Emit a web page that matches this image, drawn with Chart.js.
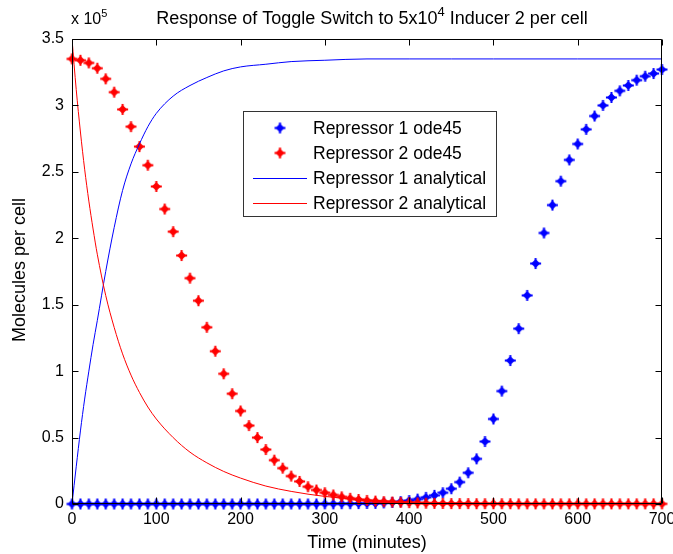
<!DOCTYPE html>
<html>
<head>
<meta charset="utf-8">
<script src="https://cdn.jsdelivr.net/npm/chart.js@4"></script>
<style>
  html, body { margin: 0; padding: 0; background: #fff; }
</style>
</head>
<body>
<canvas id="chart" width="673" height="554"></canvas>
<script>
// values are in units of 1e5 molecules per cell (axis shows "x 10^5")
const odeTimes = [0, 10, 20, 30, 40, 50, 60, 70, 80, 90, 100, 110, 120, 130, 140, 150, 160, 170, 180, 190,
  200, 210, 220, 230, 240, 250, 260, 270, 280, 290, 300, 310, 320, 330, 340, 350, 360, 370, 380, 390,
  400, 410, 420, 430, 440, 450, 460, 470, 480, 490, 500, 510, 520, 530, 540, 550, 560, 570, 580, 590,
  600, 610, 620, 630, 640, 650, 660, 670, 680, 690, 700];

const rep1Ode = [0, 0, 0, 0, 0, 0, 0, 0, 0, 0, 0, 0, 0, 0, 0, 0, 0, 0, 0, 0,
  0, 0, 0, 0, 0, 0, 0, 0, 0, 0, 0.001, 0.001, 0.002, 0.002, 0.003, 0.004, 0.005, 0.008, 0.012, 0.018,
  0.026, 0.037, 0.05, 0.065, 0.085, 0.115, 0.165, 0.235, 0.34, 0.47, 0.64, 0.85, 1.08, 1.32, 1.57, 1.81, 2.04, 2.25, 2.43, 2.59,
  2.71, 2.82, 2.92, 3.0, 3.06, 3.11, 3.15, 3.19, 3.22, 3.24, 3.27];

const rep2Ode = [3.35, 3.34, 3.32, 3.28, 3.2, 3.1, 2.97, 2.84, 2.69, 2.55, 2.39, 2.22, 2.05, 1.87, 1.7, 1.53, 1.33, 1.15, 0.98, 0.83,
  0.7, 0.59, 0.5, 0.41, 0.33, 0.27, 0.21, 0.17, 0.13, 0.105, 0.085, 0.068, 0.054, 0.043, 0.034, 0.027, 0.022, 0.018, 0.015, 0.012,
  0.01, 0.008, 0.006, 0.005, 0.004, 0.003, 0.003, 0.003, 0.002, 0.002, 0.002, 0.002, 0.002, 0.001, 0.001, 0.001, 0.001, 0.001, 0.001, 0.001,
  0.001, 0.001, 0.001, 0.001, 0.001, 0.001, 0.001, 0.001, 0.001, 0.001, 0.001];

const anaTimes = [0, 5, 10, 15, 20, 25, 30, 40, 50, 60, 70, 80, 90, 100, 120, 140, 160, 180, 200, 230, 260, 300, 350, 400, 450, 500, 600, 700];
const rep1Ana = [0, 0.28, 0.55, 0.79, 1.0, 1.2, 1.38, 1.75, 2.08, 2.36, 2.56, 2.71, 2.84, 2.94, 3.07, 3.15, 3.21, 3.26, 3.29, 3.31, 3.33, 3.34, 3.35, 3.35, 3.35, 3.35, 3.35, 3.35];
const rep2Ana = [3.5, 3.12, 2.8, 2.52, 2.28, 2.07, 1.88, 1.57, 1.33, 1.13, 0.97, 0.84, 0.73, 0.64, 0.5, 0.39, 0.31, 0.245, 0.195, 0.135, 0.095, 0.057, 0.03, 0.015, 0.007, 0.003, 0.001, 0];

const seriesLabels = ['Repressor 1 ode45', 'Repressor 2 ode45', 'Repressor 1 analytical', 'Repressor 2 analytical'];
const xTicks = [0, 100, 200, 300, 400, 500, 600, 700];
const yTicks = [0, 0.5, 1, 1.5, 2, 2.5, 3, 3.5];

const FONT = "'Liberation Sans', Arial, sans-serif";

function pts(xs, ys) {
  return xs.map((x, i) => ({ x: x, y: ys[i] }));
}

// MATLAB-like bold '*' marker: fat diamond body with plus arms
function makeMarker(color) {
  const c = document.createElement('canvas');
  c.width = 13; c.height = 13;
  const g = c.getContext('2d');
  g.fillStyle = color;
  g.strokeStyle = color;
  g.beginPath();
  g.moveTo(6.5, 2); g.lineTo(11, 6.5); g.lineTo(6.5, 11); g.lineTo(2, 6.5);
  g.closePath();
  g.fill();
  g.lineWidth = 2;
  g.beginPath();
  g.moveTo(6.5, 1); g.lineTo(6.5, 12);
  g.moveTo(1, 6.5); g.lineTo(12, 6.5);
  g.stroke();
  return c;
}
const blueMarker = makeMarker('#0000ff');
const redMarker = makeMarker('#ff0000');

function supText(ctx, parts, x, y, size) {
  let cx = x;
  parts.forEach(p => {
    ctx.font = (p.sup ? Math.round(size * 0.7) : size) + 'px ' + FONT;
    ctx.fillText(p.t, cx, p.sup ? y - size * 0.45 : y);
    cx += ctx.measureText(p.t).width;
  });
  return cx - x;
}
function supWidth(ctx, parts, size) {
  let w = 0;
  parts.forEach(p => {
    ctx.font = (p.sup ? Math.round(size * 0.7) : size) + 'px ' + FONT;
    w += ctx.measureText(p.t).width;
  });
  return w;
}

const decorations = {
  id: 'decorations',
  afterDraw(chart) {
    const { ctx, chartArea: a, scales } = chart;
    const xs = scales.x, ys = scales.y;
    const L = Math.round(a.left) + 0.5, R = Math.round(a.right) - 0.5;
    const T = Math.round(a.top) + 0.5, B = Math.round(a.bottom) - 0.5;
    ctx.save();
    ctx.strokeStyle = '#000';
    ctx.lineWidth = 1;
    ctx.beginPath();
    ctx.rect(L, T, R - L, B - T);
    // inward tick marks on all four sides
    const tl = 6;
    xTicks.forEach(v => {
      const px = Math.round(xs.getPixelForValue(v)) + 0.5;
      ctx.moveTo(px, B); ctx.lineTo(px, B - tl);
      ctx.moveTo(px, T); ctx.lineTo(px, T + tl);
    });
    yTicks.forEach(v => {
      const py = Math.round(ys.getPixelForValue(v)) + 0.5;
      ctx.moveTo(L, py); ctx.lineTo(L + tl, py);
      ctx.moveTo(R, py); ctx.lineTo(R - tl, py);
    });
    ctx.stroke();

    ctx.fillStyle = '#000';
    ctx.textBaseline = 'alphabetic';
    ctx.textAlign = 'left';

    // title
    const titleParts = [{ t: 'Response of Toggle Switch to 5x10' }, { t: '4', sup: true }, { t: ' Inducer 2 per cell' }];
    const tw = supWidth(ctx, titleParts, 18);
    supText(ctx, titleParts, 372 - tw / 2, 24, 18);

    // exponent label
    supText(ctx, [{ t: 'x 10' }, { t: '5', sup: true }], 71, 24, 16);

    // axis titles
    ctx.font = '18px ' + FONT;
    ctx.textAlign = 'center';
    ctx.textBaseline = 'middle';
    ctx.fillText('Time (minutes)', (a.left + a.right) / 2, 543);
    ctx.save();
    ctx.translate(20, 270);
    ctx.rotate(-Math.PI / 2);
    ctx.fillText('Molecules per cell', 0, 0);
    ctx.restore();

    // legend box
    const bx = 243.5, by = 111.5, bw = 253, bh = 105;
    ctx.fillStyle = '#fff';
    ctx.fillRect(bx, by, bw, bh);
    ctx.strokeStyle = '#333';
    ctx.strokeRect(bx, by, bw, bh);
    const rows = [128, 153, 178, 203];
    const colors = ['#0000ff', '#ff0000', '#0000ff', '#ff0000'];
    const markers = [blueMarker, redMarker];
    ctx.font = '17.5px ' + FONT;
    ctx.textAlign = 'left';
    ctx.textBaseline = 'middle';
    seriesLabels.forEach((lab, i) => {
      const yy = rows[i];
      if (i < 2) {
        ctx.drawImage(markers[i], 280 - 6.5, yy - 6.5);
      } else {
        ctx.strokeStyle = colors[i];
        ctx.lineWidth = 1;
        ctx.beginPath();
        ctx.moveTo(253, yy + 0.5); ctx.lineTo(307, yy + 0.5);
        ctx.stroke();
      }
      ctx.fillStyle = '#000';
      ctx.fillText(lab, 313, yy + 1);
    });
    ctx.restore();
  }
};

function fitX(s) { s.height = 50; s.paddingLeft = 0; s.paddingRight = 0; }
function fitY(s) { s.width = 72; s.paddingTop = 0; s.paddingBottom = 0; }

new Chart(document.getElementById('chart'), {
  type: 'scatter',
  data: {
    datasets: [
      { label: seriesLabels[0], data: pts(odeTimes, rep1Ode), pointStyle: blueMarker, pointRadius: 6, showLine: false, clip: false, order: 3 },
      { label: seriesLabels[1], data: pts(odeTimes, rep2Ode), pointStyle: redMarker, pointRadius: 6, showLine: false, clip: false, order: 2 },
      { label: seriesLabels[2], data: pts(anaTimes, rep1Ana), borderColor: '#0000ff', borderWidth: 1, pointRadius: 0, showLine: true, cubicInterpolationMode: 'monotone', order: 1 },
      { label: seriesLabels[3], data: pts(anaTimes, rep2Ana), borderColor: '#ff0000', borderWidth: 1, pointRadius: 0, showLine: true, cubicInterpolationMode: 'monotone', order: 0 }
    ]
  },
  options: {
    responsive: false,
    animation: false,
    devicePixelRatio: 1,
    layout: { padding: { top: 39, right: 11, left: 0, bottom: 0 } },
    plugins: { legend: { display: false }, title: { display: false }, tooltip: { enabled: false } },
    scales: {
      x: {
        type: 'linear', min: 0, max: 700,
        afterFit: fitX,
        grid: { display: false, drawTicks: false },
        border: { display: false },
        ticks: { stepSize: 100, autoSkip: false, maxRotation: 0, padding: 6, color: '#000', font: { family: FONT, size: 16 } }
      },
      y: {
        min: 0, max: 3.5,
        afterFit: fitY,
        grid: { display: false, drawTicks: false },
        border: { display: false },
        ticks: { stepSize: 0.5, padding: 8, color: '#000', font: { family: FONT, size: 16 }, callback: v => String(+v.toFixed(1)) }
      }
    }
  },
  plugins: [decorations]
});
</script>
</body>
</html>
